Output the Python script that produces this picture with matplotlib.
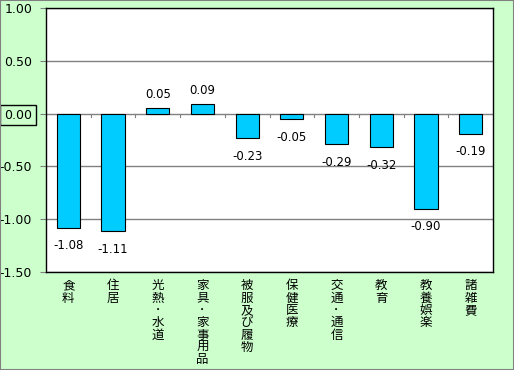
import matplotlib.pyplot as plt
import numpy as np

plt.rcParams['font.family'] = ['Noto Sans CJK JP', 'DejaVu Sans']

categories = ['食料', '住居', '光熱･水道', '家具･家事用品', '被服及び履物',
              '保健医療', '交通･通信', '教育', '教養娯楽', '諸雑費']
values = [-1.08, -1.11, 0.05, 0.09, -0.23, -0.05, -0.29, -0.32, -0.90, -0.19]
yticks = [1.0, 0.5, 0.0, -0.5, -1.0, -1.5]

fig = plt.figure(figsize=(5.14, 3.70), dpi=100, facecolor='#CCFFCC')
fig.patches.append(plt.Rectangle((0, 0), 1, 1, transform=fig.transFigure,
                                 fill=False, edgecolor='#808080', linewidth=1.5))
ax = fig.add_axes([46 / 514, 1 - 272 / 370, (493 - 46) / 514, (272 - 8) / 370])
ax.set_facecolor('white')

x = np.arange(len(categories))
ax.bar(x, values, width=0.52, color='#00CCFF', edgecolor='black', linewidth=0.8, zorder=3)

for xi, v in zip(x, values):
    if v >= 0:
        ax.annotate(f'{v:.2f}', (xi, v), xytext=(0, 5), textcoords='offset points',
                    ha='center', va='bottom', fontsize=8.5, family='DejaVu Sans')
    else:
        ax.annotate(f'{v:.2f}', (xi, v), xytext=(0, -8.5), textcoords='offset points',
                    ha='center', va='top', fontsize=8.5, family='DejaVu Sans')

ax.set_ylim(-1.5, 1.0)
ax.set_xlim(-0.5, len(categories) - 0.5)
ax.set_yticks(yticks)
ax.set_yticklabels([f'{t:.2f}' for t in yticks], fontsize=9, family='DejaVu Sans')
ax.grid(axis='y', color='#808080', linewidth=1, zorder=0)
ax.tick_params(axis='y', length=4, color='#808080', pad=6)

for lbl in ax.get_yticklabels():
    if lbl.get_text() == '0.00':
        lbl.set_bbox(dict(facecolor='none', edgecolor='black', boxstyle='square,pad=0.3', linewidth=1))

# category ticks hanging below the zero line
ax.set_xticks([])
for b in np.arange(0.5, len(categories) - 0.5, 1):
    ax.plot([b, b], [0, -0.035], color='#808080', linewidth=0.8, zorder=2)

for xi, name in zip(x, categories):
    ax.text(xi, -1.57, '\n'.join(name), ha='center', va='top',
            fontsize=9, linespacing=0.93)

for s in ax.spines.values():
    s.set_color('black')
    s.set_linewidth(1)

fig.savefig('out.png', dpi=100, facecolor=fig.get_facecolor())
